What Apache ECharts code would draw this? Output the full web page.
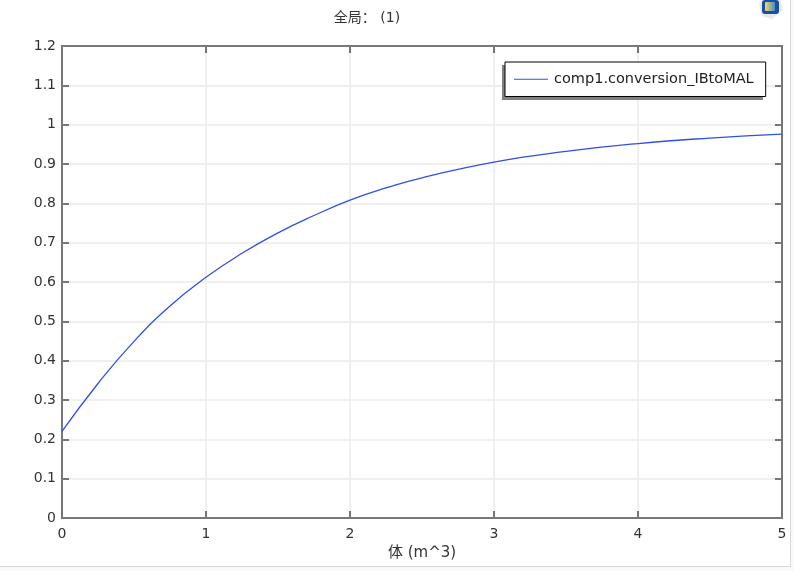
<!DOCTYPE html>
<html><head><meta charset="utf-8">
<style>html,body{margin:0;padding:0;background:#fff}#c{width:794px;height:571px}</style>
<script src="https://cdn.jsdelivr.net/npm/echarts@6/dist/echarts.min.js"></script>
</head><body><div id="c"></div>
<script>
const volume = [0,0.25,0.5,0.75,1,1.25,1.5,1.75,2,2.25,2.5,3,3.5,4,4.5,5];
const conversion = [0.22,0.342,0.449,0.539,0.612,0.673,0.725,0.769,0.808,0.839,0.865,0.905,0.932,0.952,0.966,0.976];
const seriesName = 'comp1.conversion_IBtoMAL';
const titleText = '全局： (1)';
const xAxisName = '体 (m^3)';
const font = '"DejaVu Sans","Noto Sans CJK SC",sans-serif';
const axisGrey = '#777777';
const textColor = '#333333';
const tickStyle = {show:true,inside:true,length:7,lineStyle:{color:axisGrey,width:2}};
const frameLine = {show:true,onZero:false,lineStyle:{color:axisGrey,width:2}};
const chart = echarts.init(document.getElementById('c'),null,{renderer:'canvas'});
chart.setOption({
  animation:false,
  backgroundColor:'#fff',
  textStyle:{fontFamily:font},
  title:{text:titleText,left:362,top:6,textAlign:'center',textStyle:{fontFamily:font,fontSize:14,fontWeight:'normal',color:textColor}},
  grid:{left:62,right:12,top:46,bottom:53,containLabel:false},
  legend:{show:true,left:505,top:62,orient:'vertical',itemWidth:34,itemHeight:15,padding:[10,12,10,9],itemGap:0,
    backgroundColor:'#fff',borderColor:'#000',borderWidth:1,borderRadius:0,
    textStyle:{fontFamily:font,fontSize:14.5,color:'#222',padding:[0,0,0,1]},
    data:[{name:seriesName,icon:'path://M0 4.5H33V5.5H0Z'}]},
  xAxis:[
    {type:'value',min:0,max:5,interval:1,position:'bottom',axisLine:frameLine,axisTick:tickStyle,
     axisLabel:{color:textColor,fontSize:14,margin:9,fontFamily:font,hideOverlap:false},
     splitLine:{show:true,lineStyle:{color:'#f0f0f0',width:2}},
     name:xAxisName,nameLocation:'middle',nameGap:27,nameTextStyle:{color:textColor,fontSize:15,fontFamily:font}},
    {type:'value',min:0,max:5,interval:1,position:'top',axisLine:frameLine,axisTick:tickStyle,axisLabel:{show:false},splitLine:{show:false}}
  ],
  yAxis:[
    {type:'value',min:0,max:1.2,interval:0.1,position:'left',axisLine:frameLine,axisTick:tickStyle,
     axisLabel:{color:textColor,fontSize:14,margin:6,fontFamily:font},
     splitLine:{show:true,lineStyle:{color:'#f0f0f0',width:2}}},
    {type:'value',min:0,max:1.2,interval:0.1,position:'right',axisLine:frameLine,axisTick:tickStyle,axisLabel:{show:false},splitLine:{show:false}}
  ],
  series:[{name:seriesName,type:'line',xAxisIndex:0,yAxisIndex:0,symbol:'none',smooth:true,
    lineStyle:{color:'#2f4fe8',width:1.3},itemStyle:{color:'#2f4fe8'},
    data:volume.map((v,i)=>[v,conversion[i]])}],
  graphic:[
    {type:'rect',silent:true,z:3,shape:{x:502,y:65,width:261,height:35},style:{fill:'#808080'}},
    {type:'rect',silent:true,shape:{x:0,y:566,width:794,height:5},style:{fill:'#f8f9ff'}},
    {type:'rect',silent:true,shape:{x:790,y:0,width:4,height:571},style:{fill:'#f8f9ff'}},
    {type:'rect',silent:true,shape:{x:0,y:566,width:790,height:1},style:{fill:'#d8d8d8'}},
    {type:'rect',silent:true,shape:{x:790,y:0,width:1,height:567},style:{fill:'#d8d8d8'}},
    {type:'polygon',silent:true,shape:{points:[[759,3],[764,0],[780,0],[783,10],[772,19],[762,16]]},style:{fill:'#e8e8e8'}},
    {type:'rect',silent:true,shape:{x:762,y:0,width:17,height:14,r:3},style:{fill:'#1a4fa8'}},
    {type:'rect',silent:true,shape:{x:765,y:2,width:10,height:9,r:1},style:{fill:new echarts.graphic.LinearGradient(0,0,1,0,[{offset:0,color:'#f0dc5a'},{offset:1,color:'#4a8fc8'}])}}
  ]
});
</script></body></html>
